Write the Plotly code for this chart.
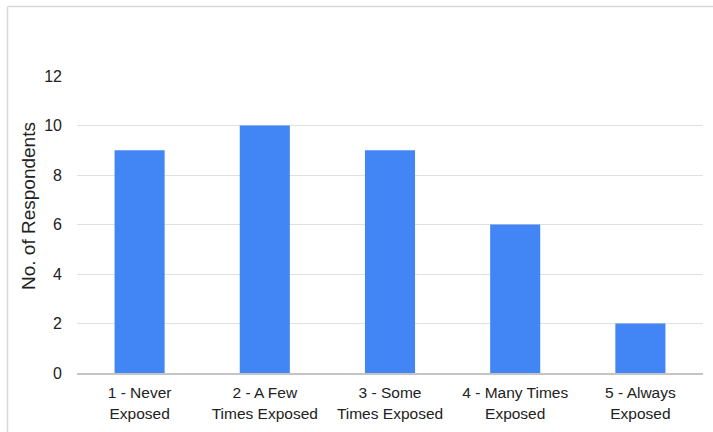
import plotly.graph_objects as go

categories = ["1 - Never<br>Exposed", "2 - A Few<br>Times Exposed", "3 - Some<br>Times Exposed",
              "4 - Many Times<br>Exposed", "5 - Always<br>Exposed"]
respondents = [9, 10, 9, 6, 2]
y_ticks = [0, 2, 4, 6, 8, 10, 12]
y_title = "No. of Respondents"

W, H = 713, 432
ML, MR, MT, MB = 77, 10, 76, 59
pw, ph = W - ML - MR, H - MT - MB

fig = go.Figure(go.Bar(x=categories, y=respondents, marker=dict(color="#4285F4", line=dict(width=0)),
                       hoverinfo="x+y"))

# outer frame: light gray left and top edges
fx = (7.5 - ML) / pw
fy = (H - MB - 6.5) / ph
fig.add_shape(type="line", xref="paper", yref="paper", x0=fx, x1=fx, y0=fy, y1=-2,
              line=dict(color="#d9d9d9", width=1.5))
fig.add_shape(type="line", xref="paper", yref="paper", x0=fx, x1=2, y0=fy, y1=fy,
              line=dict(color="#d9d9d9", width=1.5))

# vertical axis title, placed a little above the plot's mid-height
fig.add_annotation(text=y_title, textangle=-90, showarrow=False,
                   xref="paper", yref="paper",
                   x=(28 - ML) / pw, y=(H - MB - 206) / ph,
                   xanchor="center", yanchor="middle",
                   font=dict(size=19, color="#222222"))

fig.update_layout(
    width=W, height=H,
    margin=dict(l=ML, r=MR, t=MT, b=MB, autoexpand=False),
    paper_bgcolor="white", plot_bgcolor="white",
    bargap=0.6,
    showlegend=False,
    font=dict(family="Arial, Liberation Sans, sans-serif", size=16, color="#222222"),
    xaxis=dict(showgrid=False, showline=True, linecolor="#c4c4c4", linewidth=1.5,
               ticks="", ticklabelstandoff=5, automargin=False,
               tickfont=dict(size=15.5)),
    yaxis=dict(range=[0, 12], tickvals=y_ticks, showgrid=True, gridcolor="#e0e0e0", gridwidth=1,
               zeroline=False, showline=False, ticks="", tickfont=dict(size=16),
               ticklabelstandoff=14, automargin=False),
)

fig.write_html("out.html")
